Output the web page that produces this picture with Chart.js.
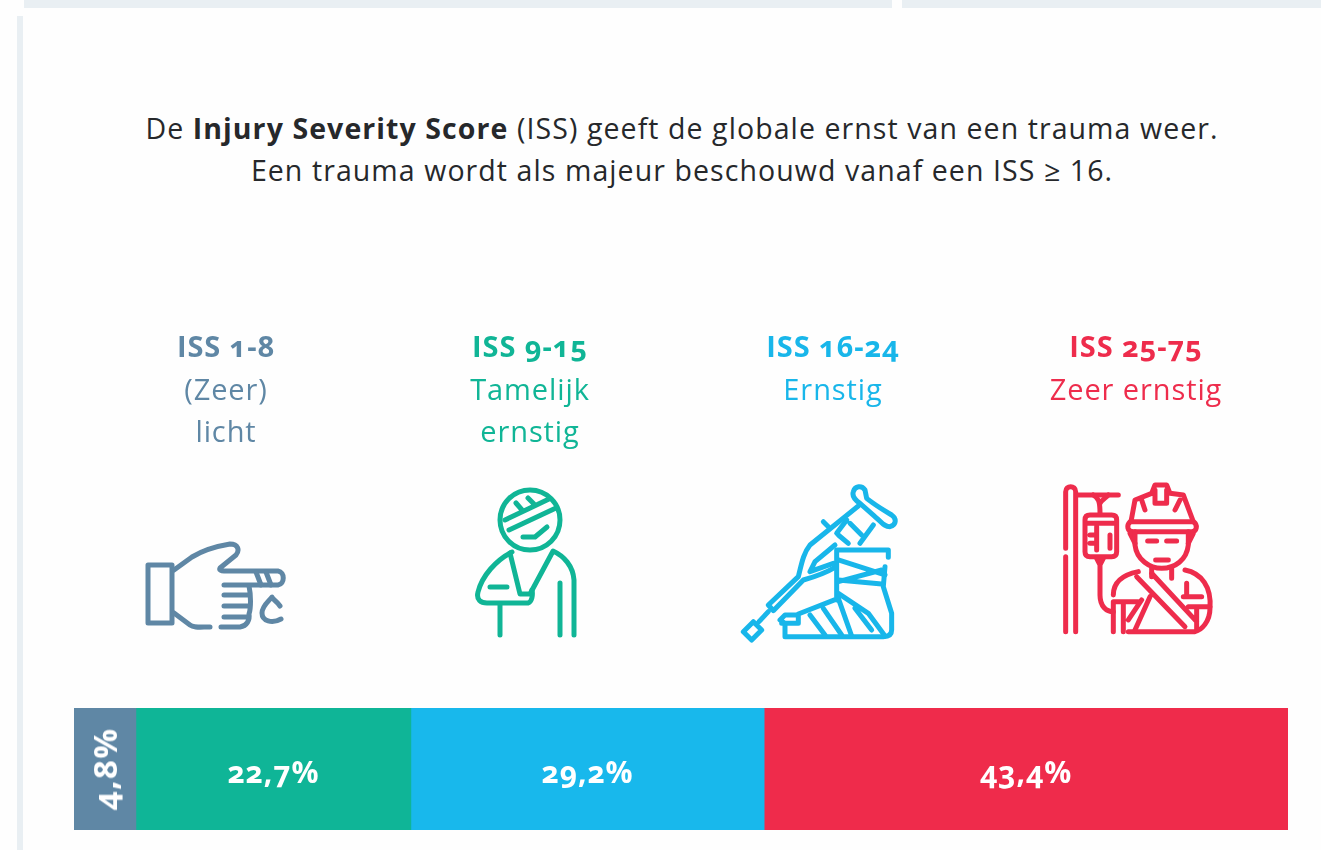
<!DOCTYPE html>
<html>
<head>
<meta charset="utf-8">
<title>Injury Severity Score</title>
<script src="https://cdn.jsdelivr.net/npm/chart.js@4"></script>
<style>
html, body { margin: 0; padding: 0; background: #fefefe; }
body { width: 1321px; height: 850px; position: relative; overflow: hidden; font-family: "Open Sans", sans-serif; }
.strip { position: absolute; background: #e9eff3; }
#chart { position: absolute; left: 0; top: 0; }
#intro { position: absolute; left: 0; top: 107px; width: 1364px; text-align: center; font-size: 28.5px; line-height: 42px; letter-spacing: 1.08px; color: #26282b; white-space: nowrap; }
.head { position: absolute; width: 300px; text-align: center; font-size: 29px; line-height: 42.5px; letter-spacing: 0.9px; white-space: nowrap; font-variant-numeric: oldstyle-nums; }
.head b { display: block; font-weight: 700; }
.val { position: absolute; color: #fff; font-weight: 700; font-size: 30px; line-height: 34px; letter-spacing: 0.9px; white-space: nowrap; font-variant-numeric: oldstyle-nums; transform: translate(-50%, -50%); }
svg { position: absolute; left: 0; top: 0; }
svg path, svg circle { fill: none; stroke-linecap: round; stroke-linejoin: round; }
</style>
</head>
<body>
<div class="strip" style="left:24px;top:0;width:868px;height:8px"></div>
<div class="strip" style="left:902px;top:0;width:419px;height:8px"></div>
<div class="strip" style="left:17px;top:16px;width:6px;height:834px"></div>

<div id="intro">
<div>De <b>Injury Severity Score</b> (ISS) geeft de globale ernst van een trauma weer.</div>
<div>Een trauma wordt als majeur beschouwd vanaf een ISS ≥ 16.</div>
</div>

<svg width="1321" height="850" viewBox="0 0 1321 850">
	<!-- hand -->
	<g stroke="#5f87a5" stroke-width="5">
		<path d="M148 565H172V623H148Z"/>
		<path d="M174 570L192 557C205 549 218 546 230 544C238 544 240 550 236 555L220 568C219 570 221 571 224 571H278C285 572 285 584 278 585H224"/>
		<path d="M224 595H248M224 606H248M224 617H247M221 627H240C247 626 250 620 249 614C251 608 251 595 249 586"/>
		<path d="M174 613L190 625C194 628 200 627 210 627"/>
		<path d="M256 572L261 585M266 572L271 585"/>
		<path d="M280 606C276 600 273 600 272 597C268 602 262 606 262 613C262 621 272 624 281 619"/>
	</g>
	<!-- person with sling -->
	<g stroke="#10b596" stroke-width="5">
		<circle cx="530" cy="520" r="30"/>
		<path d="M505 520L549 499M509 530L556 508M516 503L522 510M528 498L534 504"/>
		<path d="M523 537H535L547 527"/>
		<path d="M512 552C496 560 482 576 478 592C476 600 481 603 487 603H528C532 602 533 595 532 590"/>
		<path d="M510 553L520 594H530L552 553"/>
		<path d="M553 551C564 556 573 566 574 580V635M560 583V635M500 604V635M490 587H507"/>
	</g>
	<!-- crutch and cast, drawn in 3x crop units -->
	<g stroke="#18b6ea" stroke-width="15" transform="translate(735,480) scale(0.3333)">
		<path d="M355 35C360 18 380 15 390 30L395 55C420 75 445 90 470 105C485 115 485 135 465 140C445 140 440 125 420 110L375 70C360 60 350 50 355 35Z"/>
		<path d="M370 78L225 195C205 220 200 250 190 290L100 375L115 392L205 300C240 290 270 280 300 262"/>
		<path d="M300 195L240 245L225 275L295 250"/>
		<path d="M335 120L305 160M415 135L375 190M310 165L340 190M345 130L380 165M265 125L280 140"/>
		<path d="M100 395L72 425M25 455L55 425L80 450L50 480Z"/>
		<path d="M305 210H460V232M305 210V360M450 260L445 320L470 400V450C470 465 460 470 445 470H150V430L135 420L150 405H190L190 430H140M190 402L310 355"/>
		<path d="M310 240L450 285M310 305L440 270M310 300L440 312M310 340L400 400L450 468M360 385L410 450M225 405L270 465M265 385L320 465M310 355L350 468"/>
	</g>
	<!-- IV stand and firefighter, drawn in 3x crop units -->
	<g stroke="#ee2c4c" stroke-width="15" transform="translate(1055,480) scale(0.3333)">
		<path d="M32 205V35C32 15 62 15 62 35V455M32 230V455M62 45H190"/>
		<path d="M115 45C130 55 135 60 135 100M160 45C150 55 140 60 135 70"/>
		<path d="M105 105H170C180 105 185 110 185 120V215C185 225 180 230 170 230H105C95 230 90 225 90 215V120C90 110 95 105 105 105ZM95 130H180M105 165H125M105 190H125M125 140V210M165 165V205"/>
		<path d="M125 235L135 255L145 235ZM135 255V345C135 380 155 395 175 395"/>
		<path d="M228 125L240 60L290 40L300 15H335L345 40L385 45L415 125M300 30V70H335V30M260 60L270 90M375 60L360 90"/>
		<path d="M225 125H415C430 135 425 155 410 155H235C215 155 215 135 225 125ZM225 160L240 190M415 160L400 190"/>
		<path d="M240 155V195C245 240 285 265 320 265C360 265 395 240 400 195V155"/>
		<path d="M278 183H305M335 183H365M302 240H340M290 265V290M350 265V295"/>
		<path d="M250 275C200 285 175 310 175 345M390 270C440 280 470 320 465 385C465 425 440 450 420 455H220"/>
		<path d="M175 365V455M205 370V455M175 365H250M245 290L390 440M290 280L425 425M260 360L220 420M285 350L240 450M395 310V350M385 350H440M400 380H465M425 380V450"/>
	</g>
</svg>

<canvas id="chart" width="1321" height="850"></canvas>

<script>
var categories = ["ISS 1-8", "ISS 9-15", "ISS 16-24", "ISS 25-75"];
var descriptions = [["(Zeer)", "licht"], ["Tamelijk", "ernstig"], ["Ernstig"], ["Zeer ernstig"]];
// printed percentages
var valueLabels = ["4,8%", "22,7%", "29,2%", "43,4%"];
// bar lengths, the first bar is drawn a bit wider than its label says
var barLengths = [5.1, 22.65, 29.1, 43.15];
var colors = ["#5f87a5", "#0fb597", "#18b8ec", "#ef2b4b"];
var textColors = ["#5f87a5", "#10b596", "#18b6ea", "#ee2c4c"];
var headCenters = [226, 530, 833, 1136];

var total = 0;
for(var i = 0; i < barLengths.length; i++){
	total += barLengths[i];
}

// headings above the icons
for(var h = 0; h < categories.length; h++){
	var el = document.createElement("div");
	el.className = "head";
	el.style.left = (headCenters[h] - 150) + "px";
	el.style.top = "325px";
	el.style.color = textColors[h];
	el.innerHTML = "<b>" + categories[h] + "</b>" + descriptions[h].join("<br>");
	document.body.appendChild(el);
}

// value labels sit on the bars, the narrow first one is turned
var barLabels = {
	id: "barLabels",
	afterDraw: function(chart){
		var old = document.querySelectorAll(".val");
		for(var o = 0; o < old.length; o++){
			old[o].remove();
		}
		for(var d = 0; d < chart.data.datasets.length; d++){
			var bar = chart.getDatasetMeta(d).data[0];
			var lab = document.createElement("div");
			lab.className = "val";
			lab.textContent = valueLabels[d];
			lab.style.left = (bar.x + bar.base) / 2 + "px";
			lab.style.top = (bar.y + 3) + "px";
			if(barLengths[d] < 10){
				lab.style.transform = "translate(-50%, -50%) rotate(-90deg)";
				lab.style.top = bar.y + "px";
				lab.style.fontSize = "33px";
				lab.style.letterSpacing = "1.4px";
			}
			document.body.appendChild(lab);
		}
	}
};

var datasets = [];
for(var s = 0; s < barLengths.length; s++){
	datasets.push({
		label: categories[s],
		data: [barLengths[s]],
		backgroundColor: colors[s],
		borderWidth: 0,
		barPercentage: 1,
		categoryPercentage: 1
	});
}

new Chart(document.getElementById("chart"), {
	type: "bar",
	data: { labels: ["ISS"], datasets: datasets },
	options: {
		indexAxis: "y",
		responsive: false,
		animation: false,
		layout: { padding: { left: 74, right: 33, top: 708, bottom: 20 } },
		plugins: { legend: { display: false }, tooltip: { enabled: false } },
		scales: {
			x: { stacked: true, min: 0, max: total, display: false },
			y: { stacked: true, display: false }
		}
	},
	plugins: [barLabels]
});
</script>
</body>
</html>
